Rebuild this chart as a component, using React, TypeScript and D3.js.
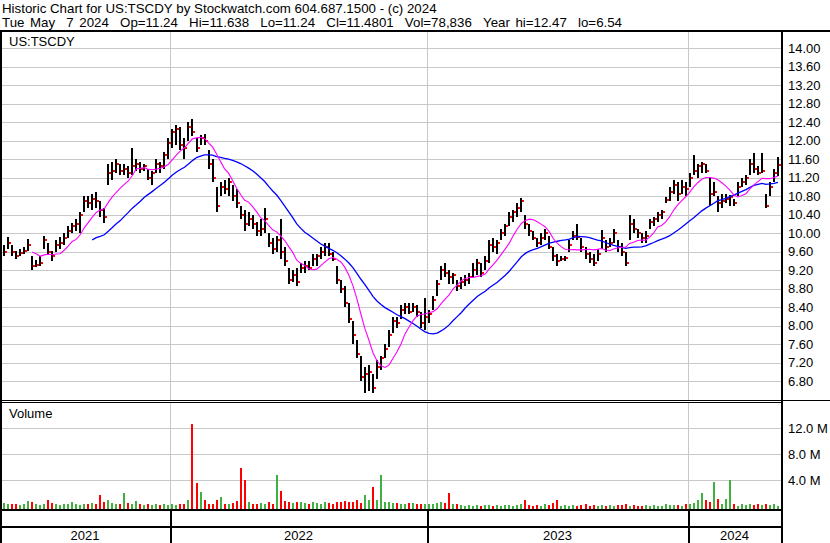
import React from 'react';
import * as d3 from 'd3';

// Weekly bars: high / low / close (USD) and volume (millions of shares)
const highs = [
  9.75, 9.92, 9.75, 9.62, 9.65, 9.70, 9.88, 9.50, 9.42, 9.50,
  9.95, 9.80, 9.62, 9.85, 9.92, 10.00, 10.15, 10.22, 10.30, 10.45,
  10.80, 10.80, 10.85, 10.90, 10.70, 10.55, 11.50, 11.55, 11.60, 11.50,
  11.50, 11.45, 11.85, 11.60, 11.55, 11.50, 11.40, 11.35, 11.60, 11.55,
  11.75, 12.05, 12.25, 12.35, 12.30, 12.05, 12.40, 12.47, 12.05, 12.12,
  12.15, 11.80, 11.60, 11.00, 11.10, 11.15, 11.20, 11.05, 10.95, 10.60,
  10.50, 10.45, 10.40, 10.25, 10.30, 10.55, 10.00, 9.90, 9.95, 10.30,
  9.70, 9.25, 9.20, 9.25, 9.35, 9.40, 9.40, 9.55, 9.55, 9.70,
  9.80, 9.78, 9.60, 9.30, 9.00, 8.85, 8.50, 8.10, 7.70, 7.35,
  7.10, 7.15, 6.95, 7.25, 7.35, 7.60, 7.90, 8.20, 8.20, 8.45,
  8.50, 8.50, 8.50, 8.45, 8.30, 8.60, 8.35, 8.65, 9.00, 9.30,
  9.35, 9.20, 9.15, 9.00, 9.05, 9.10, 9.15, 9.35, 9.45, 9.35,
  9.50, 9.85, 9.90, 9.85, 10.10, 10.20, 10.45, 10.50, 10.65, 10.76,
  10.40, 10.20, 10.05, 9.90, 10.00, 10.10, 9.95, 9.70, 9.55, 9.50,
  9.50, 9.85, 10.05, 10.20, 9.90, 9.70, 9.60, 9.55, 9.65, 10.07,
  9.85, 9.90, 10.10, 9.85, 9.80, 9.60, 10.40, 10.30, 10.10, 10.00,
  10.05, 10.30, 10.35, 10.45, 10.50, 10.78, 11.00, 11.15, 11.10, 11.15,
  11.10, 11.30, 11.70, 11.50, 11.55, 11.50, 11.20, 11.10, 10.80, 10.85,
  10.85, 10.82, 10.75, 11.10, 11.20, 11.25, 11.60, 11.73, 11.45, 11.73,
  10.85, 11.10, 11.40, 11.64,
];

const lows = [
  9.50, 9.65, 9.50, 9.45, 9.50, 9.55, 9.62, 9.20, 9.27, 9.30,
  9.65, 9.55, 9.40, 9.60, 9.65, 9.75, 9.90, 10.00, 10.05, 10.00,
  10.45, 10.55, 10.50, 10.55, 10.35, 10.22, 11.05, 11.15, 11.30, 11.25,
  11.25, 11.20, 11.25, 11.35, 11.30, 11.35, 11.15, 11.04, 11.30, 11.30,
  11.40, 11.60, 11.85, 11.90, 11.80, 11.60, 12.00, 12.10, 11.75, 11.90,
  11.90, 11.40, 11.10, 10.45, 10.80, 10.85, 10.80, 10.70, 10.55, 10.30,
  10.05, 10.15, 10.10, 9.95, 9.95, 10.00, 9.70, 9.55, 9.60, 9.45,
  9.30, 8.90, 8.95, 8.85, 9.15, 9.15, 9.20, 9.30, 9.30, 9.45,
  9.50, 9.50, 9.40, 8.90, 8.70, 8.40, 8.05, 7.60, 7.30, 6.80,
  6.54, 6.60, 6.55, 6.85, 7.05, 7.30, 7.55, 7.85, 7.95, 8.15,
  8.25, 8.25, 8.30, 8.20, 7.95, 7.90, 8.05, 8.35, 8.65, 9.00,
  9.05, 8.90, 8.90, 8.75, 8.80, 8.85, 8.90, 9.05, 9.10, 9.05,
  9.20, 9.35, 9.60, 9.55, 9.85, 9.95, 10.15, 10.25, 10.35, 10.45,
  10.10, 9.95, 9.85, 9.70, 9.75, 9.85, 9.65, 9.40, 9.30, 9.40,
  9.40, 9.60, 9.85, 9.85, 9.60, 9.45, 9.35, 9.30, 9.40, 9.65,
  9.60, 9.70, 9.80, 9.60, 9.50, 9.30, 9.85, 10.00, 9.90, 9.80,
  9.80, 10.10, 10.15, 10.25, 10.30, 10.65, 10.70, 10.85, 10.70, 10.85,
  10.80, 11.00, 11.25, 11.20, 11.30, 11.30, 10.60, 10.80, 10.45, 10.55,
  10.65, 10.60, 10.60, 10.80, 11.00, 11.05, 11.25, 11.30, 11.25, 11.30,
  10.55, 10.80, 11.10, 11.24,
];

const closes = [
  9.60, 9.80, 9.60, 9.50, 9.58, 9.62, 9.75, 9.30, 9.32, 9.35,
  9.85, 9.60, 9.50, 9.75, 9.80, 9.90, 10.05, 10.15, 10.20, 10.40,
  10.70, 10.65, 10.75, 10.70, 10.50, 10.35, 11.30, 11.35, 11.50, 11.35,
  11.40, 11.30, 11.45, 11.50, 11.40, 11.45, 11.20, 11.30, 11.50, 11.45,
  11.70, 11.95, 12.20, 12.25, 11.90, 11.85, 12.30, 12.20, 11.85, 12.05,
  12.00, 11.50, 11.20, 10.60, 11.00, 10.95, 11.10, 10.80, 10.65, 10.40,
  10.20, 10.30, 10.20, 10.05, 10.10, 10.30, 9.80, 9.65, 9.85, 9.60,
  9.40, 9.00, 9.10, 8.95, 9.25, 9.30, 9.25, 9.45, 9.50, 9.60,
  9.70, 9.55, 9.45, 9.00, 8.80, 8.50, 8.15, 7.80, 7.40, 6.90,
  6.95, 7.00, 6.65, 7.10, 7.30, 7.50, 7.80, 8.10, 8.05, 8.35,
  8.40, 8.30, 8.40, 8.30, 8.05, 8.20, 8.25, 8.55, 8.90, 9.20,
  9.15, 9.05, 9.10, 8.85, 8.95, 9.00, 9.05, 9.20, 9.35, 9.15,
  9.40, 9.75, 9.70, 9.80, 10.00, 10.15, 10.35, 10.45, 10.55, 10.70,
  10.20, 10.05, 9.90, 9.80, 9.90, 10.00, 9.70, 9.50, 9.40, 9.45,
  9.46, 9.75, 9.95, 9.92, 9.70, 9.55, 9.45, 9.35, 9.55, 9.90,
  9.70, 9.80, 10.00, 9.70, 9.60, 9.35, 10.20, 10.10, 10.00, 9.90,
  9.95, 10.25, 10.30, 10.40, 10.45, 10.72, 10.90, 11.05, 10.85, 11.00,
  10.95, 11.20, 11.35, 11.45, 11.50, 11.35, 10.85, 10.90, 10.65, 10.70,
  10.75, 10.78, 10.65, 11.00, 11.10, 11.20, 11.50, 11.40, 11.30, 11.35,
  10.60, 11.00, 11.30, 11.48,
];

const volumes = [
  0.5, 0.3, 0.4, 0.3, 0.2, 0.4, 0.8, 0.6, 0.3, 0.2,
  0.4, 1.0, 0.5, 0.3, 0.2, 0.3, 0.4, 0.7, 0.3, 0.2,
  0.4, 0.3, 0.5, 0.4, 1.7, 0.6, 0.9, 0.5, 0.3, 0.4,
  2.1, 0.5, 0.3, 0.8, 0.3, 0.2, 0.3, 0.2, 0.3, 0.2,
  0.3, 0.2, 0.3, 0.2, 0.4, 0.3, 1.0, 12.7, 3.6, 2.2,
  1.0, 0.4, 0.3, 1.0, 1.4, 0.4, 0.3, 0.5, 0.8, 5.9,
  4.1, 0.6, 0.4, 0.3, 0.5, 0.4, 0.6, 0.4, 4.8, 2.3,
  0.8, 0.6, 0.5, 0.7, 0.6, 0.5, 0.4, 0.6, 0.5, 0.4,
  0.6, 0.5, 0.4, 0.7, 0.6, 0.8, 0.6, 0.7, 1.0, 0.5,
  1.7, 1.0, 3.0, 0.9, 4.8, 0.6, 0.7, 0.5, 0.5, 0.4,
  0.3, 0.5, 0.5, 0.3, 0.4, 0.4, 0.3, 0.4, 0.5, 0.6,
  0.5, 2.0, 0.4, 0.3, 0.2, 0.1, 0.2, 0.1, 0.2, 0.1,
  0.15, 0.2, 0.1, 0.15, 0.1, 0.2, 0.15, 0.1, 0.2, 0.3,
  0.9, 0.2, 0.1, 0.15, 0.1, 0.3, 0.2, 0.5, 0.9, 0.1,
  0.15, 0.1, 0.2, 0.1, 0.15, 0.3, 0.1, 0.15, 0.1, 0.2,
  0.1, 0.15, 0.1, 0.2, 0.2, 0.3, 0.1, 0.15, 0.1, 0.1,
  0.15, 0.1, 0.2, 0.1, 0.1, 0.3, 0.15, 0.15, 0.2, 0.1,
  0.3, 0.4, 0.5, 0.9, 2.0, 1.0, 0.7, 3.8, 1.1, 0.3,
  1.1, 4.0, 0.3, 0.1, 0.3, 0.2, 0.4, 0.2, 0.3, 0.2,
  0.3, 0.2, 0.3, 0.08,
];

const yearLabels = ['2021', '2022', '2023', '2024'];
const yearStartIdx = [0, 42, 106, 171];
const priceTicks = [
  6.8, 7.2, 7.6, 8.0, 8.4, 8.8, 9.2, 9.6, 10.0, 10.4,
  10.8, 11.2, 11.6, 12.0, 12.4, 12.8, 13.2, 13.6, 14.0,
];
const volumeTicks = [4, 8, 12];

const headerLine1 = 'Historic Chart for US:TSCDY by Stockwatch.com 604.687.1500 - (c) 2024';
const headerLine2 =
  'Tue May  7 2024  Op=11.24  Hi=11.638  Lo=11.24  Cl=11.4801  Vol=78,836  Year hi=12.47  lo=6.54';
const symbol = 'US:TSCDY';

const FAST_MA = 8;
const SLOW_MA = 23;

const W = 830;
const H = 543;
const PLOT_L = 0;
const PLOT_R = 781;
const FONT = '"Liberation Sans", Arial, sans-serif';

// keep every space visible in SVG text
const keepSpaces = (s: string) => s.replace(/ /g, '\u00a0');

function movingAverage(values: number[], n: number): (number | null)[] {
  return values.map((_, i) => (i < n - 1 ? null : (d3.mean(values.slice(i - n + 1, i + 1)) as number)));
}

export default function App() {
  const n = closes.length;
  const x = d3.scaleLinear().domain([-0.5, n - 0.5]).range([2, 780]);
  const y = d3.scaleLinear().domain([6.8, 14.0]).range([381.3, 48.3]);
  const yv = d3.scaleLinear().domain([0, 12]).range([506.3, 428.3]);
  const volBase = 509;

  const fast = movingAverage(closes, FAST_MA);
  const slow = movingAverage(closes, SLOW_MA);
  const maLine = d3
    .line<number | null>()
    .defined((d) => d !== null)
    .x((_, i) => x(i))
    .y((d) => y(d as number));

  const boundaries = yearStartIdx.slice(1).map((s) => Math.round(x(s - 0.5)));
  const segEdges = [PLOT_L, ...boundaries, PLOT_R];

  const volColor = (i: number) => {
    if (i === 0) return '#40b040';
    if (closes[i] > closes[i - 1]) return '#40b040';
    if (closes[i] < closes[i - 1]) return '#ff0000';
    return '#a0a0a0';
  };

  return (
    <svg
      width={W}
      height={H}
      style={{ position: 'absolute', left: 0, top: 0, background: '#fff' }}
      fontFamily={FONT}
    >
      <rect x={0} y={0} width={W} height={H} fill="#fff" />

      {/* header */}
      <text x={2} y={13} fontSize={13.3}>
        {keepSpaces(headerLine1)}
      </text>
      <text x={2} y={26.5} fontSize={13.3} style={{ wordSpacing: '1.9px' }}>
        {keepSpaces(headerLine2)}
      </text>
      <rect x={0} y={30} width={W} height={2} fill="#000" />

      {/* grid */}
      <g shapeRendering="crispEdges" stroke="#c8c8c8" strokeWidth={1}>
        {priceTicks.map((t) => (
          <line key={t} x1={PLOT_L} x2={PLOT_R} y1={Math.round(y(t)) + 0.5} y2={Math.round(y(t)) + 0.5} />
        ))}
        {volumeTicks.map((t) => (
          <line key={'v' + t} x1={PLOT_L} x2={PLOT_R} y1={Math.round(yv(t)) + 0.5} y2={Math.round(yv(t)) + 0.5} />
        ))}
        {boundaries.map((bx) => (
          <g key={bx}>
            <line x1={bx + 0.5} x2={bx + 0.5} y1={32} y2={400} />
            <line x1={bx + 0.5} x2={bx + 0.5} y1={403} y2={509} />
          </g>
        ))}
      </g>

      {/* price bars */}
      <g shapeRendering="crispEdges">
        {closes.map((c, i) => {
          const cx = Math.round(x(i));
          const top = Math.round(y(highs[i]));
          const bot = Math.round(y(lows[i]));
          return <rect key={'b' + i} x={cx - 1} y={top} width={2} height={Math.max(1, bot - top)} fill="#000" />;
        })}
        {closes.map((c, i) => {
          const cx = Math.round(x(i));
          return <rect key={'c' + i} x={cx + 1} y={Math.round(y(c)) - 1} width={2} height={2} fill="#ff0000" />;
        })}
      </g>

      {/* moving averages */}
      <path d={maLine(slow) || ''} fill="none" stroke="#0000ff" strokeWidth={1.3} />
      <path d={maLine(fast) || ''} fill="none" stroke="#ff00ff" strokeWidth={1.1} />

      <text x={9} y={45.5} fontSize={13}>
        {symbol}
      </text>

      {/* panel separator */}
      <rect x={0} y={400} width={W} height={1} fill="#000" />
      <rect x={0} y={402} width={PLOT_R} height={1} fill="#000" />

      {/* volume bars */}
      <g shapeRendering="crispEdges">
        {volumes.map((v, i) => {
          const cx = Math.round(x(i));
          const top = Math.min(Math.round(yv(v)), volBase - 2);
          return <rect key={'v' + i} x={cx - 1} y={top} width={2} height={volBase - top} fill={volColor(i)} />;
        })}
      </g>
      <text x={9} y={418} fontSize={13}>
        Volume
      </text>

      {/* time axis band and frame */}
      <g shapeRendering="crispEdges" fill="#000">
        <rect x={0} y={509} width={PLOT_R} height={2} />
        <rect x={0} y={526} width={PLOT_R} height={2} />
        {boundaries.map((bx) => (
          <rect key={'s' + bx} x={bx} y={511} width={1.5} height={H - 511} />
        ))}
        <rect x={PLOT_R} y={30} width={2} height={H - 30} />
        <rect x={0} y={30} width={1.5} height={H - 30} />
      </g>
      {yearLabels.map((lab, k) => (
        <text key={lab} x={(segEdges[k] + segEdges[k + 1]) / 2} y={540} fontSize={13} textAnchor="middle">
          {lab}
        </text>
      ))}

      {/* right axis labels */}
      {priceTicks.map((t) => (
        <text key={'pl' + t} x={788} y={y(t) + 4.5} fontSize={13}>
          {t.toFixed(2)}
        </text>
      ))}
      {volumeTicks.map((t) => (
        <text key={'vl' + t} x={788} y={yv(t) + 4.5} fontSize={13}>
          {t.toFixed(1) + ' M'}
        </text>
      ))}
    </svg>
  );
}
